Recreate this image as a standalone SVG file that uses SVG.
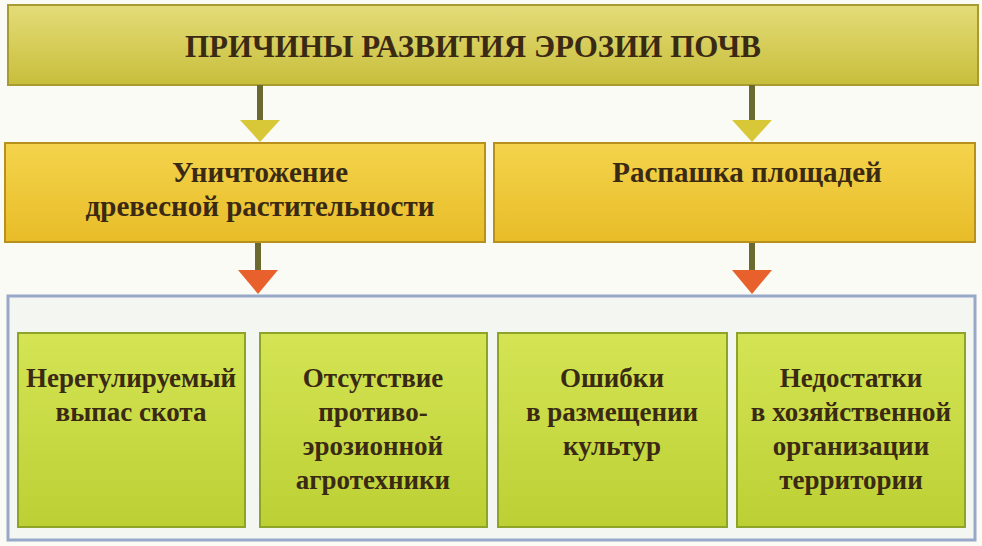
<svg xmlns="http://www.w3.org/2000/svg" width="982" height="546" viewBox="0 0 982 546">
<defs>
<linearGradient id="gt" x1="0" y1="0" x2="0" y2="1"><stop offset="0" stop-color="#e4dc78"/><stop offset="1" stop-color="#c8be3c"/></linearGradient>
<linearGradient id="gm" x1="0" y1="0" x2="0" y2="1"><stop offset="0" stop-color="#f4d44c"/><stop offset="1" stop-color="#e8bc28"/></linearGradient>
<linearGradient id="gb" x1="0" y1="0" x2="0" y2="1"><stop offset="0" stop-color="#d4e454"/><stop offset="1" stop-color="#bcd034"/></linearGradient>
</defs>
<style>
text{font-family:"Liberation Serif",serif;font-weight:bold;fill:#3a2a14;text-anchor:middle}
.t{font-size:31px}.m{font-size:29px}.b{font-size:27px}
.top{fill:url(#gt);stroke:#a89c30;stroke-width:2}
.mid{fill:url(#gm);stroke:#b8901c;stroke-width:2}
.box{fill:url(#gb);stroke:#8ea428;stroke-width:2}
.stem{stroke:#6a6a30;stroke-width:6}
</style>
<rect width="982" height="546" fill="#fbfbf6"/>
<g id="top"><rect class="top" x="8" y="5" width="970" height="80"/><text class="t" x="473" y="57">ПРИЧИНЫ РАЗВИТИЯ ЭРОЗИИ ПОЧВ</text></g>
<g id="connectors">
<line class="stem" x1="260" y1="85" x2="260" y2="120"/><path d="M240 120 H280 L260 142 Z" fill="#d8c838"/>
<line class="stem" x1="752" y1="85" x2="752" y2="120"/><path d="M732 120 H772 L752 142 Z" fill="#d8c838"/>
<line class="stem" x1="258" y1="243" x2="258" y2="270"/><path d="M238 270 H278 L258 294 Z" fill="#e8602c"/>
<line class="stem" x1="752" y1="243" x2="752" y2="270"/><path d="M732 270 H772 L752 294 Z" fill="#e8602c"/>
</g>
<g id="left"><rect class="mid" x="5" y="143" width="480" height="99"/><text class="m" x="260" y="182">Уничтожение</text><text class="m" x="260" y="216">древесной растительности</text></g>
<g id="right"><rect class="mid" x="494" y="143" width="481" height="99"/><text class="m" x="747" y="182">Распашка площадей</text></g>
<rect x="8" y="296" width="967" height="244" fill="#f4f6f2" stroke="#98a8c8" stroke-width="3"/>
<g id="b1"><rect class="box" x="18" y="333" width="227" height="194"/><text class="b" x="131" y="387">Нерегулируемый</text><text class="b" x="131" y="421">выпас скота</text></g>
<g id="b2"><rect class="box" x="260" y="333" width="227" height="194"/><text class="b" x="373" y="387">Отсутствие</text><text class="b" x="373" y="421">противо-</text><text class="b" x="373" y="455">эрозионной</text><text class="b" x="373" y="489">агротехники</text></g>
<g id="b3"><rect class="box" x="498" y="333" width="229" height="194"/><text class="b" x="612" y="387">Ошибки</text><text class="b" x="612" y="421">в размещении</text><text class="b" x="612" y="455">культур</text></g>
<g id="b4"><rect class="box" x="737" y="333" width="228" height="194"/><text class="b" x="851" y="387">Недостатки</text><text class="b" x="851" y="421">в хозяйственной</text><text class="b" x="851" y="455">организации</text><text class="b" x="851" y="489">территории</text></g>
</svg>
